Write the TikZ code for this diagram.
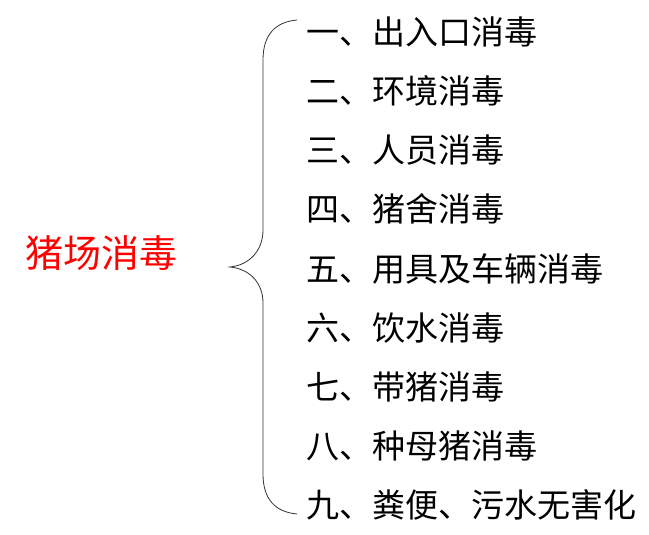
\documentclass[tikz,border=0pt]{standalone}
\usepackage{fontspec}
\newfontfamily\cjk{Noto Sans CJK SC}
\tikzset{
  item/.style = {anchor = west, inner sep = 0pt, font = \cjk\fontsize{33}{33}\selectfont},
  title/.style = {anchor = west, inner sep = 0pt, color = red, font = \cjk\fontsize{38}{38}\selectfont}
}
\begin{document}
\begin{tikzpicture}[x = 1pt, y = 1pt]
\useasboundingbox (0,0) rectangle (649,535);
\node (T) [title] at (25,282) {猪场消毒};
\node (I1) [item] at (306,503) {一、出入口消毒};
\node (I2) [item] at (306,444) {二、环境消毒};
\node (I3) [item] at (306,385) {三、人员消毒};
\node (I4) [item] at (306,326) {四、猪舍消毒};
\node (I5) [item] at (306,266.5) {五、用具及车辆消毒};
\node (I6) [item] at (306,207) {六、饮水消毒};
\node (I7) [item] at (306,148) {七、带猪消毒};
\node (I8) [item] at (306,89) {八、种母猪消毒};
\node (I9) [item] at (306,30) {九、粪便、污水无害化};
\coordinate (top) at (297,515);
\coordinate (tip) at (230,268);
\coordinate (bottom) at (297,21);
\draw [line width = 0.8pt, black!80] (top) .. controls (275,513) and (263,500) .. (263,475)
  -- (263,305) .. controls (263,285) and (250,270) .. (tip)
  .. controls (250,266) and (263,252) .. (263,232)
  -- (263,61) .. controls (263,36) and (275,23) .. (bottom);
\end{tikzpicture}
\end{document}
